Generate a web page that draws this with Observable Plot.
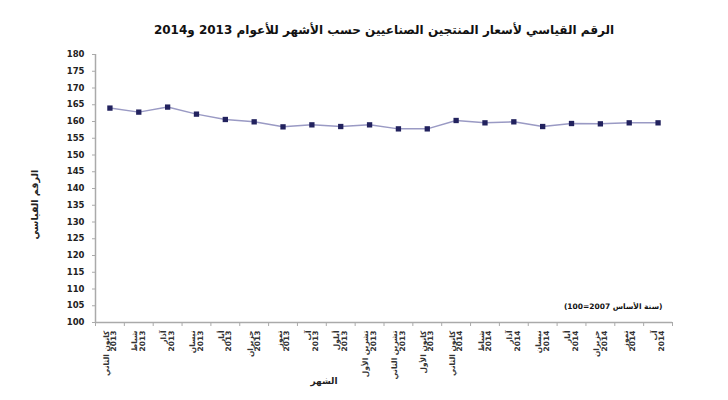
<!DOCTYPE html>
<html><head><meta charset="utf-8">
<script src="https://cdn.jsdelivr.net/npm/d3@7"></script>
<script src="https://cdn.jsdelivr.net/npm/@observablehq/plot@0.6"></script>
<style>
body{margin:0;background:#fff;}
#chart svg{font-family:"DejaVu Sans",sans-serif;}
</style>
</head><body><div id="chart"></div>
<script>
const months = ["كانون الثاني","شباط","آذار","نيسان","أيار","حزيران","تموز","آب","أيلول","تشرين الأول","تشرين الثاني","كانون الأول","كانون الثاني","شباط","آذار","نيسان","أيار","حزيران","تموز","آب"];
const years = ["2013","2013","2013","2013","2013","2013","2013","2013","2013","2013","2013","2013","2014","2014","2014","2014","2014","2014","2014","2014"];
const values = [164.0,162.8,164.3,162.2,160.6,159.9,158.4,159.0,158.5,159.0,157.8,157.8,160.3,159.6,159.9,158.5,159.4,159.3,159.6,159.6];
const yTicks = d3.range(100, 181, 5);
const title = "الرقم القياسي لأسعار المنتجين الصناعيين حسب الأشهر للأعوام 2013 و2014";
const yTitle = "الرقم القياسي";
const xTitle = "الشهر";
const legendText = "(سنة الأساس 2007=100)";

const data = values.map((v, i) => ({i, v, label: months[i] + "\n" + years[i]}));
const idx = d3.range(values.length);
const bounds = d3.range(-0.5, values.length, 1);

const plot = Plot.plot({
  width: 728, height: 400,
  marginLeft: 95, marginRight: 56, marginTop: 54, marginBottom: 78,
  x: {type: "linear", domain: [-0.5, values.length - 0.5]},
  y: {domain: [100, 180]},
  marks: [
    Plot.ruleY([100], {stroke: "#aaa", strokeWidth: 1.5}),
    Plot.ruleX([-0.5], {stroke: "#aaa", strokeWidth: 1.5}),
    Plot.axisY({ticks: yTicks, tickSize: 3, stroke: "#aaa", tickFormat: d => String(d), fontSize: 8.5, fontWeight: "bold", fill: "#222", label: null, tickPadding: 8}),
    Plot.axisX({ticks: bounds, tickSize: 4, stroke: "#aaa", tickFormat: () => "", label: null}),
    Plot.axisX({ticks: idx, tickSize: 0, tickRotate: -90, tickPadding: 8, fontSize: 7.5, fontWeight: "bold", fill: "#333", tickFormat: i => data[i].label, label: null}),
    Plot.line(data, {x: "i", y: "v", stroke: "#9a9ac4", strokeWidth: 1.5}),
    Plot.dot(data, {x: "i", y: "v", symbol: "square", r: 3, fill: "#22225e", stroke: "none"}),
    Plot.text([title], {frameAnchor: "top", dy: -29, fontSize: 12, fontWeight: "bold", fill: "#111"}),
    Plot.text([yTitle], {frameAnchor: "left", dx: -61, dy: 51, rotate: -90, fontSize: 9.5, fontWeight: "bold", fill: "#222"}),
    Plot.text([xTitle], {frameAnchor: "bottom", dx: -60, dy: 61, fontSize: 9, fontWeight: "bold", fill: "#222"}),
    Plot.text([legendText], {frameAnchor: "bottom-right", dx: -10, dy: -14, textAnchor: "end", fontSize: 7.5, fontWeight: "bold", fill: "#111", className: "legend-text"})
  ]
});
document.getElementById("chart").appendChild(plot);
// box around legend text
const t = d3.select(plot).select(".legend-text text");
if (!t.empty()) {
  const b = t.node().getBBox();
  d3.select(t.node().parentNode).insert("rect", "text")
    .attr("x", b.x - 4).attr("y", b.y - 2).attr("width", b.width + 8).attr("height", b.height + 4)
    .attr("fill", "#fff").attr("stroke", "#999").attr("stroke-width", 1);
}
</script>
</body></html>
